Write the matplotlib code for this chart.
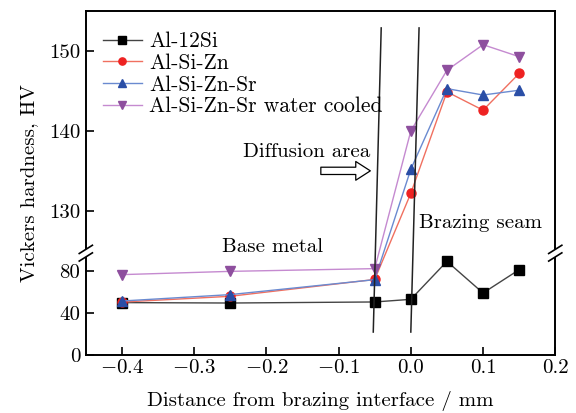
import numpy as np
import matplotlib
matplotlib.use("Agg")
import matplotlib.pyplot as plt
from matplotlib.patches import Rectangle

# distance from brazing interface (mm)
dist = [-0.4, -0.25, -0.05, 0.0, 0.05, 0.1, 0.15]

al12si = [50.0, 49.6, 50.6, 53.1, 89.2, 59.1, 81.3]
alsizn = [50.5, 56.0, 72.0, 132.2, 144.9, 142.6, 147.2]
alsiznsr = [51.5, 57.6, 71.8, 135.2, 145.3, 144.5, 145.1]
alsiznsr_wc = [76.6, 79.7, 82.3, 140.0, 147.6, 150.8, 149.3]

labels = ["Al-12Si", "Al-Si-Zn", "Al-Si-Zn-Sr", "Al-Si-Zn-Sr water cooled"]
colors = ["#000000", "#ee2222", "#2a4ea6", "#8e4f9e"]
line_colors = ["#444444", "#f07060", "#6a8ad0", "#c58ad0"]
markers = ["s", "o", "^", "v"]

# interface boundary lines (x, y)
line1_x = [-0.052, -0.041]
line1_y = [22.0, 152.9]
line2_x = [0.0, 0.0114]
line2_y = [22.0, 152.9]

yticks = [0, 40, 80, 130, 140, 150]

# broken y axis: lower 0-97, upper 124.7-155
brk_v = [0, 97, 124.7, 155]
brk_u = [0, 102, 102.001, 344]

def fwd(v):
    return np.interp(v, brk_v, brk_u)

def inv(u):
    return np.interp(u, brk_u, brk_v)

plt.rcParams['font.family'] = 'cmr10'
plt.rcParams['mathtext.fontset'] = 'cm'
plt.rcParams['axes.formatter.use_mathtext'] = True
plt.rcParams['font.size'] = 15

fig = plt.figure(figsize=(5.76, 4.13), dpi=100)
ax = fig.add_axes([0.149, 0.140, 0.815, 0.833])
ax.set_yscale('function', functions=(fwd, inv))

series = [al12si, alsizn, alsiznsr, alsiznsr_wc]
for s, lab, c, lc, m in zip(series, labels, colors, line_colors, markers):
    ax.plot(dist, s, color=lc, lw=1.0, marker=m, ms=6.5, mfc=c, mec=c, label=lab)

ax.plot(line1_x, line1_y, color='#222222', lw=1.1)
ax.plot(line2_x, line2_y, color='#222222', lw=1.1)

ax.set_xlim(-0.45, 0.2)
ax.set_ylim(0, 155)
ax.set_yticks(yticks)
ax.set_yticklabels([str(t) for t in yticks])
ax.set_xticks([-0.4, -0.3, -0.2, -0.1, 0.0, 0.1, 0.2])
ax.set_xticklabels(["$-0.4$", "$-0.3$", "$-0.2$", "$-0.1$", "0.0", "0.1", "0.2"])
ax.minorticks_off()
ax.tick_params(direction='in', length=6, width=1.2, top=False, right=False, labelsize=15)
ax.tick_params(axis='x', pad=3)
ax.tick_params(axis='y', pad=4)
for sp in ax.spines.values():
    sp.set_linewidth(1.4)

ax.set_xlabel("Distance from brazing interface / mm", fontsize=15, labelpad=10)
ax.set_ylabel("Vickers hardness, HV", fontsize=15, labelpad=8)

ax.text(0.4706, 0.591, "Diffusion area", transform=ax.transAxes, ha='center', va='center', fontsize=15)
ax.text(0.397, 0.315, "Base metal", transform=ax.transAxes, ha='center', va='center', fontsize=15)
ax.text(0.8408, 0.3846, "Brazing seam", transform=ax.transAxes, ha='center', va='center', fontsize=15)
ax.annotate("", xy=(0.612, 0.5358), xytext=(0.4947, 0.5358), xycoords='axes fraction',
            arrowprops=dict(arrowstyle='simple,head_width=0.9,head_length=0.7,tail_width=0.35',
                            fc='white', ec='black', lw=0.9))

# break marks on both spines
yb = 102 / 344
for xb in (0, 1):
    ax.add_patch(Rectangle((xb - 0.02, yb - 0.012), 0.04, 0.024, transform=ax.transAxes,
                           fc='white', ec='none', clip_on=False, zorder=5))
    for dy in (-0.011, 0.011):
        ax.plot([xb - 0.014, xb + 0.014], [yb + dy - 0.012, yb + dy + 0.012],
                transform=ax.transAxes, color='black', lw=1.2, clip_on=False, zorder=6)

ax.legend(loc='upper left', bbox_to_anchor=(0.0, 0.99), frameon=False, fontsize=15.5,
          handlelength=1.8, handletextpad=0.35, labelspacing=0.1, borderpad=0.3,
          markerscale=0.8)

fig.savefig("out.png", dpi=100)
